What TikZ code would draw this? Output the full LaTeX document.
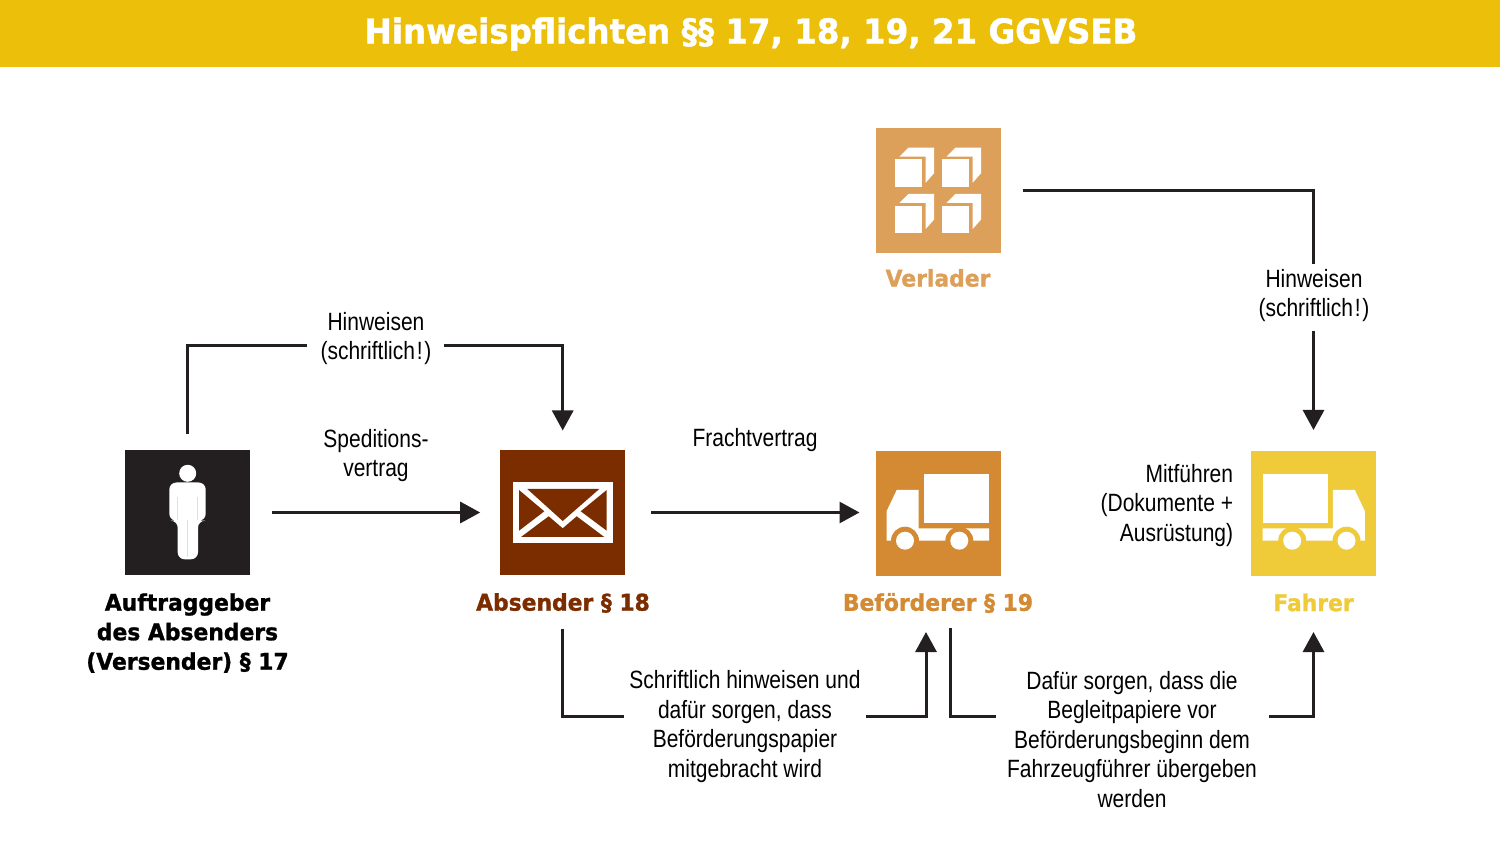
\documentclass[tikz,border=0pt]{standalone}
\usepackage{fontspec}
\usetikzlibrary{arrows.meta}
\setmainfont[FakeStretch=0.84]{Liberation Sans}
\newfontfamily\heavyfont[FakeStretch=0.95,FakeBold=1.2]{DejaVu Sans Bold}
\definecolor{band}{HTML}{EBBF0A}
\definecolor{ink}{HTML}{231F20}
\definecolor{cverl}{HTML}{DDA05A}
\definecolor{cabs}{HTML}{7B2D00}
\definecolor{cbef}{HTML}{D48A33}
\definecolor{cfah}{HTML}{EFCB3A}
\tikzset{
  x=0.5pt,y=-0.5pt,
  icon/.style={minimum size=62.5pt,inner sep=0pt,outer sep=0pt,fill=#1},
  conn/.style={draw=ink,line width=1.5pt,line join=miter},
  arr/.style={conn,-{Triangle[width=10.5pt,length=10pt]}},
  lab/.style={inner sep=0pt,align=center,text=black,font=\fontsize{12.5}{14.75}\selectfont},
  actor/.style={inner sep=0pt,align=center,text=#1,font=\heavyfont\fontsize{11.5}{14.75}\selectfont},
}
\newcommand{\lorry}[4]{%
  \begin{scope}[shift={(#1,#2)},xscale=#3]
    \fill[white] (-14,-39) rectangle (51,9.5);
    \fill[white] (-51.3,27.2) -- (-51.3,-2.5) -- (-41.3,-23.5) -- (-19.3,-23.5) -- (-19.3,14.8) -- (51,14.8) -- (51,27.2) -- cycle;
    \fill[#4] (-33,27.2) circle[radius=14];
    \fill[#4] (21.3,27.2) circle[radius=14];
    \fill[white] (-33,27.2) circle[radius=9];
    \fill[white] (21.3,27.2) circle[radius=9];
  \end{scope}}
\newcommand{\schriftl}{(schriftlich\kern0.9pt!\kern0.9pt)}
\begin{document}
\begin{tikzpicture}
\useasboundingbox (0,0) rectangle (1500,844);
\fill[white] (0,0) rectangle (1500,844);
\fill[band] (0,0) rectangle (1500,67);
\node[inner sep=0pt,text=white,font=\heavyfont\fontsize{17.1}{20}\selectfont] (title) at (751,34) {Hinweispflichten §§ 17, 18, 19, 21 GGVSEB};

% icons
\node[icon=ink] (vers) at (187.5,512.5) {};
\node[icon=cabs] (abs) at (562.7,513) {};
\node[icon=cbef] (bef) at (938,513.5) {};
\node[icon=cfah] (fah) at (1313.5,513.5) {};
\node[icon=cverl] (verl) at (938,190.3) {};

% person
\fill[white] (187.7,473.3) circle[radius=8.5];
\fill[white,rounded corners=3.5pt] (169.3,520.7) -- (169.3,482.5) -- (205.7,482.5) -- (205.7,520.7) -- (198,520.7) -- (198,559.3) -- (177.7,559.3) -- (177.7,520.7) -- cycle;
\draw[gray!25,line width=0.25pt] (177.5,497) -- (177.5,520);
\draw[gray!25,line width=0.25pt] (197.5,497) -- (197.5,520);
\draw[gray!25,line width=0.25pt] (187.7,520) -- (187.7,557);

% envelope
\fill[white] (512.7,482.3) rectangle (612.7,543.3);
\fill[cabs] (527.3,489) -- (599.3,489) -- (562.7,521) -- cycle;
\fill[cabs] (519,490) -- (544.3,511.3) -- (519,530.7) -- cycle;
\fill[cabs] (606.7,490) -- (580.7,511.3) -- (606.7,530.7) -- cycle;
\fill[cabs] (521,537) -- (548.7,516.3) -- (562.7,528.3) -- (576.7,516.3) -- (604.3,537) -- cycle;

% lorries
\lorry{938}{513.5}{1}{cbef}
\lorry{1313.5}{513.5}{-1}{cfah}

% crates
\foreach \dx/\dy in {0/0,47/0,0/46.3,47/46.3}{
  \begin{scope}[shift={(\dx,\dy)}]
    \fill[white] (895,159.3) rectangle (922.3,186.7);
    \fill[white] (899.3,156.7) -- (908.3,147.7) -- (934,147.7) -- (934,173.3) -- (925.7,182.7) -- (925.7,156.7) -- cycle;
  \end{scope}}

% names
\node[actor=black] (versl) at (187.5,633) {Auftraggeber\\des Absenders\\(Versender) § 17};
\node[actor=cabs] (absl) at (563,603) {Absender § 18};
\node[actor=cbef] (befl) at (938,603) {Beförderer § 19};
\node[actor=cfah] (fahl) at (1313.5,602.5) {Fahrer};
\node[actor=cverl] (verll) at (938,278) {Verlader};

% labels
\node[lab] (hw1) at (376,338.5) {Hinweisen\\\schriftl};
\node[lab] (sped) at (376,455.5) {Speditions-\\vertrag};
\node[lab] (fracht) at (755,440.5) {Frachtvertrag};
\node[lab] (hw2) at (1314,295.5) {Hinweisen\\\schriftl};
\node[lab,align=right,anchor=east] (mit) at (1233.5,505.5) {Mitführen\\(Dokumente +\\Ausrüstung)};
\node[lab] (schr) at (745,726.5) {Schriftlich hinweisen und\\dafür sorgen, dass\\Beförderungspapier\\mitgebracht wird};
\node[lab] (daf) at (1132,739.5) {Dafür sorgen, dass die\\Begleitpapiere vor\\Beförderungsbeginn dem\\Fahrzeugführer übergeben\\werden};

% free ends
\coordinate (a1) at (307,346);
\coordinate (a2) at (444,346);
\coordinate (b1) at (1313.5,264);
\coordinate (b2) at (1313.5,331);
\coordinate (c1) at (624,716);
\coordinate (c2) at (866,716);
\coordinate (c3) at (926,632);
\coordinate (d0) at (950,628);
\coordinate (d1) at (996,716);
\coordinate (d2) at (1269,716);
\coordinate (d3) at (1313.5,632);

% connectors
\draw[conn,shorten <=8pt] (vers.north) |- (a1);
\draw[arr,shorten >=10pt] (a2) -| (abs.north);
\draw[arr,shorten <=11pt,shorten >=10pt] (vers.east) -- (abs.west |- vers.east);
\draw[arr,shorten <=13pt,shorten >=8pt] (abs.east |- vers.east) -- (bef.west |- vers.east);
\draw[conn,shorten <=11pt] (verl.east) -| (b1);
\draw[arr,shorten >=10.5pt] (b2) -- (fah.north);
\draw[conn,shorten <=26.5pt] (abs.south) |- (c1);
\draw[arr] (c2) -| (c3);
\draw[conn] (d0) |- (d1);
\draw[arr] (d2) -| (d3);
\end{tikzpicture}
\end{document}
